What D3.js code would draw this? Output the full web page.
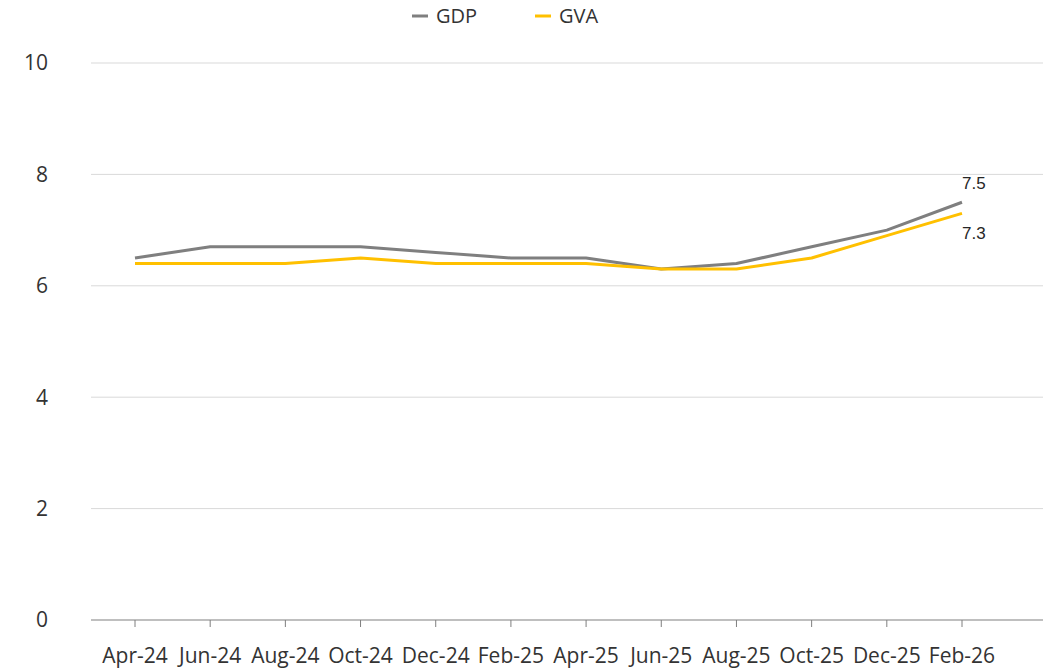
<!DOCTYPE html>
<html>
<head>
<meta charset="utf-8">
<script src="https://cdn.jsdelivr.net/npm/d3@7"></script>
<style>
  body { margin: 0; background: #fff; }
  svg { display: block; }
</style>
</head>
<body>
<div class="js-chart"></div>
<script>
const months = ["Apr-24", "Jun-24", "Aug-24", "Oct-24", "Dec-24", "Feb-25",
                "Apr-25", "Jun-25", "Aug-25", "Oct-25", "Dec-25", "Feb-26"];
const gdp = [6.5, 6.7, 6.7, 6.7, 6.6, 6.5, 6.5, 6.3, 6.4, 6.7, 7.0, 7.5];
const gva = [6.4, 6.4, 6.4, 6.5, 6.4, 6.4, 6.4, 6.3, 6.3, 6.5, 6.9, 7.3];
const yTicks = [0, 2, 4, 6, 8, 10];

const width = 1051
    , height = 669
    , margin = {top: 63, right: 8, bottom: 49, left: 91}
    ;

const tickFont = "'Open Sans', 'Noto Sans', sans-serif";

const svg = d3.select(".js-chart")
  .append("svg")
  .attr("width", width)
  .attr("height", height);

const x = d3.scalePoint()
  .domain(months)
  .range([135, 962]);

const y = d3.scaleLinear()
  .domain([0, 10])
  .range([height - margin.bottom, margin.top]);

// gridlines
svg.append("g")
  .selectAll("line")
  .data(yTicks.filter(d => d > 0))
  .join("line")
    .attr("x1", margin.left)
    .attr("x2", width - margin.right)
    .attr("y1", d => y(d))
    .attr("y2", d => y(d))
    .attr("stroke", "#d9d9d9")
    .attr("stroke-width", 1);

// y labels
svg.append("g")
  .selectAll("text")
  .data(yTicks)
  .join("text")
    .attr("x", 48)
    .attr("y", d => y(d))
    .attr("dy", "0.35em")
    .attr("text-anchor", "end")
    .style("font", `21px ${tickFont}`)
    .attr("fill", "#333")
    .text(d => d);

// x axis
const xAxis = svg.append("g")
  .attr("transform", `translate(0,${y(0)})`);

xAxis.append("line")
  .attr("x1", margin.left)
  .attr("x2", width - margin.right)
  .attr("stroke", "#bfbfbf")
  .attr("stroke-width", 2);

xAxis.selectAll(".tick")
  .data(months)
  .join("line")
    .attr("class", "tick")
    .attr("x1", d => x(d))
    .attr("x2", d => x(d))
    .attr("y1", 0)
    .attr("y2", 7)
    .attr("stroke", "#7f7f7f")
    .attr("stroke-width", 1);

xAxis.selectAll("text")
  .data(months)
  .join("text")
    .attr("x", d => x(d))
    .attr("y", 36)
    .attr("dy", "0.35em")
    .attr("text-anchor", "middle")
    .style("font", `21px ${tickFont}`)
    .attr("fill", "#333")
    .text(d => d);

// lines
const series = [
  {name: "GDP", values: gdp, color: "#7f7f7f"},
  {name: "GVA", values: gva, color: "#ffc000"}
];

const line = d3.line()
  .x((d, i) => x(months[i]))
  .y(d => y(d));

svg.append("g")
  .attr("fill", "none")
  .selectAll("path")
  .data(series)
  .join("path")
    .attr("d", d => line(d.values))
    .attr("stroke", d => d.color)
    .attr("stroke-width", 3)
    .attr("stroke-linejoin", "round");

// end labels
const last = months.length - 1;
svg.append("g")
  .selectAll("text")
  .data(series)
  .join("text")
    .attr("x", x(months[last]))
    .attr("y", (d, i) => y(d.values[last]) + (i === 0 ? -19 : 20))
    .attr("dy", "0.35em")
    .style("font", "17px 'Liberation Sans', Arial, sans-serif")
    .attr("fill", "#262626")
    .text(d => d.values[last].toFixed(1));

// legend
const legend = svg.append("g")
  .selectAll("g")
  .data(series)
  .join("g")
    .attr("transform", (d, i) => `translate(${412 + i * 123},16)`);

legend.append("line")
  .attr("x1", 0)
  .attr("x2", 16)
  .attr("stroke", d => d.color)
  .attr("stroke-width", 3);

legend.append("text")
  .attr("x", 24)
  .attr("dy", "0.35em")
  .style("font", `20px ${tickFont}`)
  .attr("fill", "#333")
  .text(d => d.name);
</script>
</body>
</html>
